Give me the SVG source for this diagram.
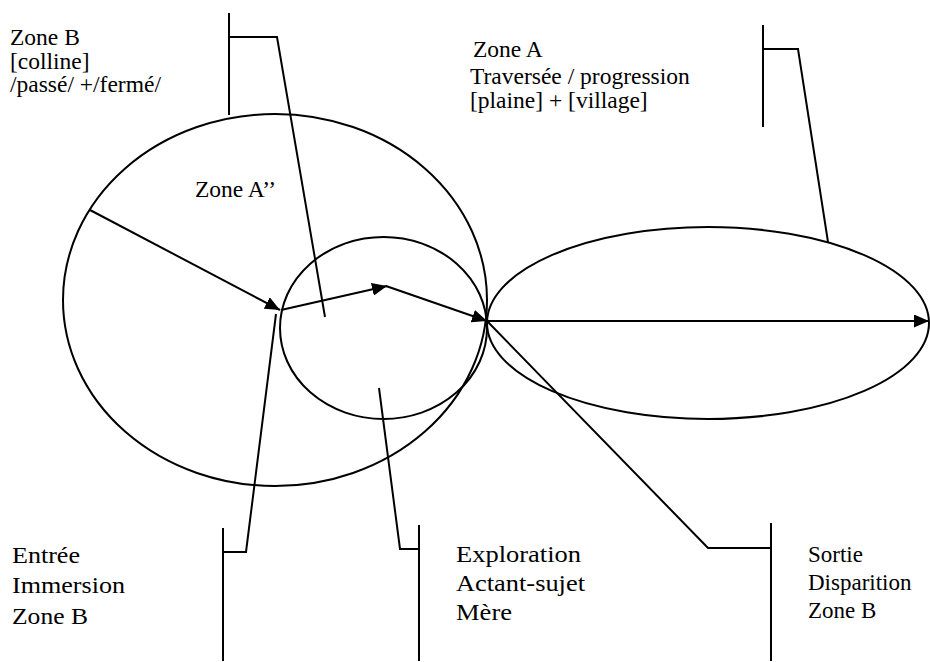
<svg xmlns="http://www.w3.org/2000/svg" width="930" height="662" viewBox="0 0 930 662">
<style>
.shape{fill:none;stroke:#000;stroke-width:2}
.ln{fill:none;stroke:#000;stroke-width:2;stroke-linejoin:miter}
</style>
<defs>
<marker id="ah" markerUnits="userSpaceOnUse" markerWidth="16" markerHeight="13" refX="15" refY="6.5" orient="auto">
<path d="M0,0 L15,6.5 L0,13 z" fill="#000"/>
</marker>
</defs>
<rect width="930" height="662" fill="#fff"/>
<g id="zone-b-ellipse"><ellipse class="shape" cx="275" cy="300" rx="212" ry="186"/></g>
<g id="zone-a2-circle"><ellipse class="shape" cx="383.5" cy="328" rx="103.5" ry="91"/></g>
<g id="zone-a-ellipse"><ellipse class="shape" cx="708" cy="323" rx="221" ry="96"/></g>
<g id="connectors">
<line class="ln" x1="90" y1="210" x2="280" y2="310" marker-end="url(#ah)"/>
<line class="ln" x1="281" y1="310" x2="387" y2="286" marker-end="url(#ah)"/>
<line class="ln" x1="386" y1="286" x2="487" y2="321" marker-end="url(#ah)"/>
<line class="ln" x1="487" y1="321" x2="929" y2="321" marker-end="url(#ah)"/>
<polyline class="ln" points="229,13 229,115"/>
<polyline class="ln" points="229,37 277,37 325,317"/>
<polyline class="ln" points="763,25 763,127"/>
<polyline class="ln" points="763,49 798,49 828,242"/>
<polyline class="ln" points="223,528 223,661"/>
<polyline class="ln" points="223,552 246,552 276,314"/>
<polyline class="ln" points="419,525 419,661"/>
<polyline class="ln" points="419,549 400,549 379,388"/>
<polyline class="ln" points="771,523 771,661"/>
<polyline class="ln" points="771,548 708,548 487,321"/>
</g>
<g font-family="Liberation Serif, serif" font-size="23.5" fill="#000">
<g id="label-zone-b">
<text x="10" y="45">Zone B</text>
<text x="10" y="69">[colline]</text>
<text x="10" y="92">/passé/ +/fermé/</text>
</g>
<g id="label-zone-a">
<text x="473" y="57">Zone A</text>
<text x="470" y="84">Traversée / progression</text>
<text x="470" y="108">[plaine] + [village]</text>
</g>
<g id="label-zone-a2"><text x="195" y="197">Zone A’’</text></g>
</g>
<g font-family="Liberation Serif, serif" font-size="23" fill="#000">
<g id="label-entree">
<text x="12" y="563" textLength="68" lengthAdjust="spacingAndGlyphs">Entrée</text>
<text x="12" y="593" textLength="113" lengthAdjust="spacingAndGlyphs">Immersion</text>
<text x="12" y="624" textLength="76" lengthAdjust="spacingAndGlyphs">Zone B</text>
</g>
<g id="label-exploration">
<text x="456" y="562" textLength="125" lengthAdjust="spacingAndGlyphs">Exploration</text>
<text x="456" y="591" textLength="129" lengthAdjust="spacingAndGlyphs">Actant-sujet</text>
<text x="456" y="620" textLength="56" lengthAdjust="spacingAndGlyphs">Mère</text>
</g>
<g id="label-sortie">
<text x="808" y="562">Sortie</text>
<text x="808" y="590">Disparition</text>
<text x="808" y="618">Zone B</text>
</g>
</g>
</svg>
